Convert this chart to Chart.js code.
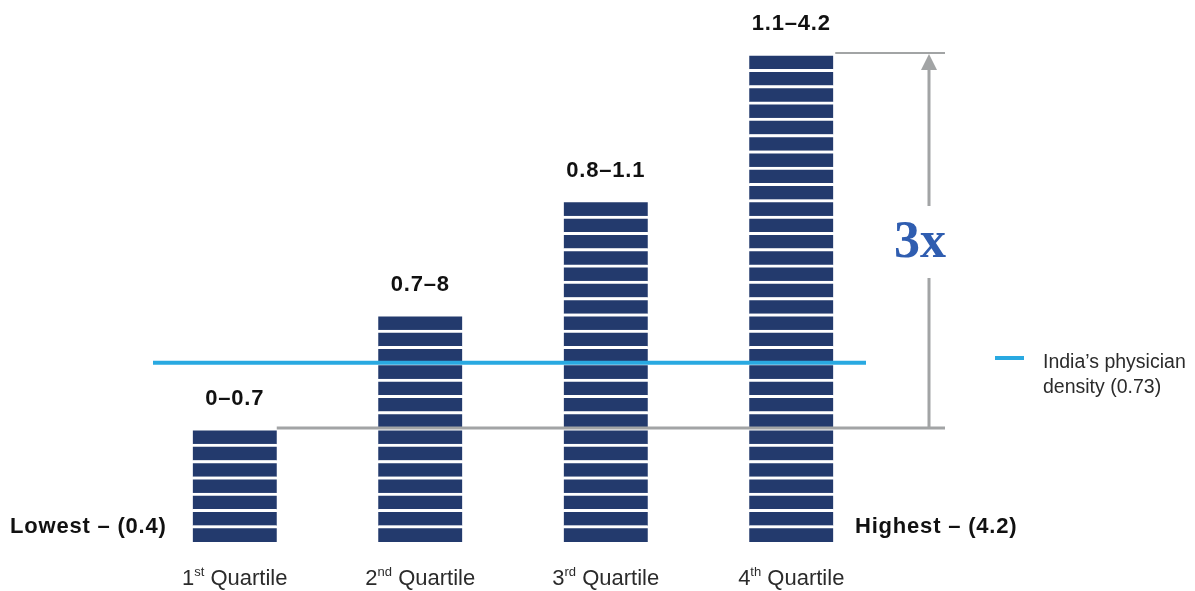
<!DOCTYPE html>
<html>
<head>
<meta charset="utf-8">
<title>Physician density by quartile</title>
<script src="https://cdn.jsdelivr.net/npm/chart.js@4/dist/chart.umd.min.js"></script>
<style>
  html, body { margin: 0; padding: 0; background: #fff; }
  #wrap { position: relative; width: 1195px; height: 591px; }
</style>
</head>
<body>
<div id="wrap"><canvas id="chart"></canvas></div>
<script>
// ── data ────────────────────────────────────────────────────────────────────
const quartiles     = ['1st Quartile', '2nd Quartile', '3rd Quartile', '4th Quartile'];
const quartileNums  = ['1', '2', '3', '4'];
const quartileSups  = ['st', 'nd', 'rd', 'th'];
const rangeLabels   = ['0\u20130.7', '0.7\u20138', '0.8\u20131.1', '1.1\u20134.2'];
const stripeCounts  = [7, 14, 21, 30];       // bar height, in stripes
const indiaLevel    = 11;                    // India line, in stripe units
const lowestLabel   = 'Lowest \u2013 (0.4)';
const highestLabel  = 'Highest \u2013 (4.2)';
const legendLines   = ['India\u2019s physician', 'density (0.73)'];
const ratioLabel    = '3x';

const NAVY  = '#233a6d';
const BLUE  = '#29a9e1';
const GREY  = '#a2a4a5';
const TEXT  = '#2b2b2b';
const SANS  = '"Liberation Sans", Arial, Helvetica, sans-serif';

// one dataset per stripe level, stacked
const maxStripes = Math.max(...stripeCounts);
const datasets = [];
for (let i = 0; i < maxStripes; i++) {
  datasets.push({
    data: stripeCounts.map((c) => (c > i ? 1 : null)),
    backgroundColor: NAVY,
    borderColor: '#ffffff',
    borderWidth: { top: 3, bottom: 0, left: 0, right: 0 },
    borderSkipped: false,
    barThickness: 84,
  });
}

// ── annotations drawn from the scales ───────────────────────────────────────
const annotations = {
  id: 'annotations',
  afterDatasetsDraw(chart) {
    const { ctx, scales: { x, y } } = chart;
    const half = 42;
    ctx.save();

    // grey reference lines at lowest and highest bar tops
    const endX = 945;
    const yLow  = y.getPixelForValue(stripeCounts[0]);
    const yHigh = y.getPixelForValue(stripeCounts[3]);
    ctx.strokeStyle = GREY;
    ctx.lineWidth = 3;
    ctx.beginPath();
    ctx.moveTo(x.getPixelForValue(0) + half, yLow);
    ctx.lineTo(endX, yLow);
    ctx.stroke();
    ctx.lineWidth = 2;
    ctx.beginPath();
    ctx.moveTo(x.getPixelForValue(3) + half + 2, yHigh);
    ctx.lineTo(endX, yHigh);
    ctx.stroke();

    // India physician density line
    const yIndia = y.getPixelForValue(indiaLevel);
    ctx.strokeStyle = BLUE;
    ctx.lineWidth = 4;
    ctx.beginPath();
    ctx.moveTo(153, yIndia);
    ctx.lineTo(866, yIndia);
    ctx.stroke();

    // vertical arrow with 3x
    const ax = 929;
    ctx.strokeStyle = GREY;
    ctx.fillStyle = GREY;
    ctx.lineWidth = 3;
    ctx.beginPath();
    ctx.moveTo(ax, yLow + 1);
    ctx.lineTo(ax, 278);
    ctx.moveTo(ax, 206);
    ctx.lineTo(ax, yHigh + 14);
    ctx.stroke();
    ctx.beginPath();
    ctx.moveTo(ax, yHigh + 1);
    ctx.lineTo(ax - 8, yHigh + 17);
    ctx.lineTo(ax + 8, yHigh + 17);
    ctx.closePath();
    ctx.fill();

    ctx.fillStyle = '#2f5db0';
    ctx.font = 'bold 52px "Liberation Serif", "DejaVu Serif", serif';
    ctx.textAlign = 'center';
    ctx.textBaseline = 'middle';
    ctx.fillText(ratioLabel, 920, 244);

    // range labels above bars
    ctx.fillStyle = '#111';
    ctx.font = 'bold 22px ' + SANS;
    ctx.letterSpacing = '0.8px';
    stripeCounts.forEach((c, i) => {
      ctx.fillText(rangeLabels[i], x.getPixelForValue(i), y.getPixelForValue(c) - 29);
    });

    // lowest / highest
    ctx.textAlign = 'left';
    ctx.fillText(lowestLabel, 10, 527);
    ctx.fillText(highestLabel, 855, 527);
    ctx.letterSpacing = '0px';

    // category labels with superscripts
    ctx.fillStyle = TEXT;
    ctx.textBaseline = 'alphabetic';
    quartiles.forEach((q, i) => {
      const cx = x.getPixelForValue(i);
      ctx.font = '22px ' + SANS;
      const wNum = ctx.measureText(quartileNums[i]).width;
      const wRest = ctx.measureText(' Quartile').width;
      ctx.font = '13px ' + SANS;
      const wSup = ctx.measureText(quartileSups[i]).width;
      let sx = cx - (wNum + wSup + wRest) / 2;
      ctx.font = '22px ' + SANS;
      ctx.fillText(quartileNums[i], sx, 585);
      sx += wNum;
      ctx.font = '13px ' + SANS;
      ctx.fillText(quartileSups[i], sx, 576);
      sx += wSup;
      ctx.font = '22px ' + SANS;
      ctx.fillText(' Quartile', sx, 585);
    });

    // legend
    ctx.strokeStyle = BLUE;
    ctx.lineWidth = 4;
    ctx.beginPath();
    ctx.moveTo(995, 358);
    ctx.lineTo(1024, 358);
    ctx.stroke();
    ctx.fillStyle = TEXT;
    ctx.font = '19.5px ' + SANS;
    ctx.textBaseline = 'middle';
    ctx.fillText(legendLines[0], 1043, 363);
    ctx.fillText(legendLines[1], 1043, 388);

    ctx.restore();
  },
};

new Chart(document.getElementById('chart'), {
  type: 'bar',
  data: { labels: quartiles, datasets },
  options: {
    responsive: true,
    maintainAspectRatio: false,
    animation: false,
    layout: { padding: { left: 142, right: 311, top: 0, bottom: 49 } },
    plugins: { legend: { display: false }, tooltip: { enabled: false } },
    scales: {
      x: { stacked: true, display: false },
      y: { stacked: true, display: false, min: 0, max: 33.25 },
    },
  },
  plugins: [annotations],
});
</script>
</body>
</html>
